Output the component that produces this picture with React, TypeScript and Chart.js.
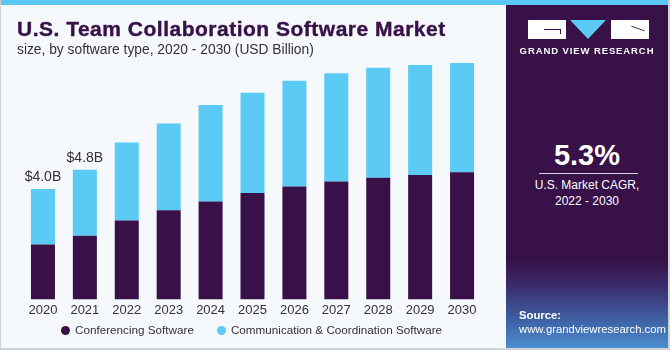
import React, { useEffect, useRef } from "react";
import { Chart, registerables } from "chart.js";

Chart.register(...registerables);

const years = ["2020", "2021", "2022", "2023", "2024", "2025", "2026", "2027", "2028", "2029", "2030"];
const conferencing = [2.01, 2.33, 2.89, 3.26, 3.58, 3.89, 4.13, 4.31, 4.45, 4.55, 4.65];
const communication = [2.03, 2.41, 2.85, 3.17, 3.53, 3.67, 3.87, 3.96, 4.02, 4.02, 4.0];
const totalLabels = ["$4.0B", "$4.8B", "", "", "", "", "", "", "", "", ""];
const seriesNames = ["Conferencing Software", "Communication & Coordination Software"];
const seriesColors = ["#371147", "#5BCBF5"];

const FONT = "'Liberation Sans', Arial, sans-serif";

const labelPlugin = {
  id: "totalLabels",
  afterDatasetsDraw(chart: any) {
    const ctx = chart.ctx;
    const meta = chart.getDatasetMeta(1);
    ctx.save();
    ctx.font = `14px ${FONT}`;
    ctx.fillStyle = "#333333";
    ctx.textAlign = "center";
    ctx.textBaseline = "middle";
    meta.data.forEach((el: any, i: number) => {
      const t = totalLabels[i];
      if (!t) return;
      ctx.fillText(t, el.x, el.y - 12);
    });
    ctx.restore();
  },
};

export default function App() {
  const ref = useRef<HTMLCanvasElement | null>(null);
  useEffect(() => {
    if (!ref.current) return;
    const chart = new Chart(ref.current, {
      type: "bar",
      data: {
        labels: years,
        datasets: [
          { label: seriesNames[0], data: conferencing, backgroundColor: seriesColors[0] },
          { label: seriesNames[1], data: communication, backgroundColor: seriesColors[1] },
        ],
      },
      options: {
        responsive: false,
        animation: false,
        devicePixelRatio: 1,
        layout: { padding: { left: 22, right: 17, top: 26, bottom: 29 } },
        datasets: { bar: { categoryPercentage: 1, barPercentage: 0.573 } } as any,
        plugins: { legend: { display: false }, tooltip: { enabled: false } },
        scales: {
          x: {
            stacked: true,
            grid: { display: false, drawTicks: false },
            border: { display: false },
            ticks: { color: "#333333", font: { family: FONT, size: 13 }, padding: 3 },
          },
          y: { stacked: true, display: false, min: 0, max: 10 },
        },
      },
      plugins: [labelPlugin],
    });
    return () => chart.destroy();
  }, []);

  const legendItem = (i: number) => (
    <div style={{ display: "flex", alignItems: "center" }}>
      <span
        style={{
          display: "inline-block",
          width: 9,
          height: 9,
          borderRadius: "50%",
          background: seriesColors[i],
          marginRight: 5,
        }}
      />
      <span>{seriesNames[i]}</span>
    </div>
  );

  return (
    <div
      style={{
        position: "fixed",
        left: 0,
        top: 0,
        width: 670,
        height: 350,
        overflow: "hidden",
        background: "#F5F9FC",
        fontFamily: FONT,
        boxSizing: "border-box",
        borderLeft: "1px solid #cfd3d6",
        borderRight: "2px solid #cfd3d6",
        borderBottom: "2px solid #cfd3d6",
      }}
    >
      <div style={{ position: "absolute", left: 0, top: 0, width: 670, height: 5, background: "#5BC8F3" }} />
      <canvas ref={ref} width={500} height={350} style={{ position: "absolute", left: -1, top: 0 }} />
      <div
        style={{
          position: "absolute",
          left: 16,
          top: 18,
          fontSize: 21,
          lineHeight: "22px",
          fontWeight: 700,
          letterSpacing: 0.5,
          color: "#371147",
          whiteSpace: "nowrap",
          WebkitTextStroke: "0.4px #371147",
        }}
      >
        U.S. Team Collaboration Software Market
      </div>
      <div
        style={{
          position: "absolute",
          left: 16,
          top: 42,
          fontSize: 13.8,
          lineHeight: "16px",
          color: "#333333",
          whiteSpace: "nowrap",
        }}
      >
        size, by software type, 2020 - 2030 (USD Billion)
      </div>
      <div
        style={{
          position: "absolute",
          left: 60,
          top: 322,
          display: "flex",
          gap: 23,
          fontSize: 11.7,
          lineHeight: "16px",
          color: "#333333",
          whiteSpace: "nowrap",
        }}
      >
        {legendItem(0)}
        {legendItem(1)}
      </div>
      <div
        style={{
          position: "absolute",
          left: 505,
          top: 5,
          width: 162,
          height: 343,
          background:
            "linear-gradient(to bottom, #371147 0%, #371147 74%, #3a2c6c 82%, #3f62a6 92%, #4a8fd0 100%)",
          color: "#ffffff",
        }}
      >
        <div style={{ position: "absolute", left: 22, top: 15, width: 38, height: 19, background: "#fff" }}>
          <div style={{ position: "absolute", left: 16, top: 9, width: 16, height: 1, background: "#371147" }} />
          <div style={{ position: "absolute", left: 32, top: 9, width: 1, height: 5, background: "#371147" }} />
        </div>
        <div
          style={{
            position: "absolute",
            left: 64,
            top: 15,
            width: 0,
            height: 0,
            borderLeft: "18px solid transparent",
            borderRight: "18px solid transparent",
            borderTop: "19px solid #5BCBF5",
          }}
        />
        <div style={{ position: "absolute", left: 105, top: 15, width: 38, height: 19, background: "#fff" }}>
          <div
            style={{
              position: "absolute",
              left: 20,
              top: 8,
              width: 14,
              height: 1,
              background: "#371147",
              transform: "rotate(20deg)",
            }}
          />
        </div>
        <div
          style={{
            position: "absolute",
            left: 0,
            width: 162,
            top: 40,
            textAlign: "center",
            fontSize: 9.5,
            fontWeight: 700,
            letterSpacing: 0.9,
            lineHeight: "12px",
          }}
        >
          GRAND VIEW RESEARCH
        </div>
        <div
          style={{
            position: "absolute",
            left: 0,
            width: 162,
            top: 133,
            textAlign: "center",
            fontSize: 29,
            fontWeight: 700,
            lineHeight: "34px",
          }}
        >
          5.3%
        </div>
        <div style={{ position: "absolute", left: 33, top: 168, width: 99, height: 1, background: "#d9d2e0" }} />
        <div
          style={{
            position: "absolute",
            left: 0,
            width: 162,
            top: 172,
            textAlign: "center",
            fontSize: 12,
            lineHeight: "16px",
          }}
        >
          U.S. Market CAGR,
          <br />
          2022 - 2030
        </div>
        <div
          style={{
            position: "absolute",
            left: 13,
            top: 303,
            fontSize: 11.3,
            lineHeight: "14px",
          }}
        >
          <div style={{ fontWeight: 700 }}>Source:</div>
          <div>www.grandviewresearch.com</div>
        </div>
      </div>
    </div>
  );
}
